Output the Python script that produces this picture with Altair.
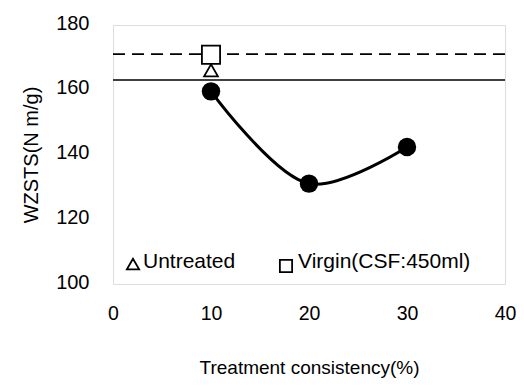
import altair as alt
import pandas as pd

# data
consistency = [10, 20, 30]
wzsts = [159.5, 131.0, 142.3]
untreated_x = [10]
untreated_y = [166.0]
virgin_x = [10]
virgin_y = [170.8]
virgin_level = [171.0]
untreated_level = [163.0]
x_ticks = [0, 10, 20, 30, 40]
y_ticks = [100, 120, 140, 160, 180]

FONT = "Liberation Sans"

main = pd.DataFrame({"x": consistency, "y": wzsts})
unt = pd.DataFrame({"x": untreated_x, "y": untreated_y})
vir = pd.DataFrame({"x": virgin_x, "y": virgin_y})
lv = pd.DataFrame({"y": virgin_level})
lu = pd.DataFrame({"y": untreated_level})

xs = alt.Scale(domain=[0, 40], nice=False, zero=False)
ys = alt.Scale(domain=[100, 180], nice=False, zero=False)

xax = alt.Axis(values=x_ticks, title="Treatment consistency(%)", grid=False, ticks=False,
               domain=False, labelFont=FONT, labelFontSize=19.5, labelColor="black",
               labelFlush=False, labelPadding=20, titleFont=FONT, titleFontSize=19,
               titleFontWeight="normal", titleColor="black", titlePadding=36)
yax = alt.Axis(values=y_ticks, title="WZSTS(N m/g)", grid=False, ticks=False,
               domain=False, labelFont=FONT, labelFontSize=20, labelColor="black",
               labelFlush=False, labelPadding=24, labelOffset=-2, titleFont=FONT,
               titleFontSize=20, titleFontWeight="normal", titleColor="black", titlePadding=14)

base_x = alt.X("x:Q", scale=xs, axis=xax)
base_y = alt.Y("y:Q", scale=ys, axis=yax)

curve = alt.Chart(main).mark_line(color="black", strokeWidth=3, interpolate="catmull-rom").encode(
    x=base_x, y=base_y)
dots = alt.Chart(main).mark_point(shape="circle", filled=True, color="black", size=340, opacity=1).encode(
    x="x:Q", y="y:Q")
tri = alt.Chart(unt).mark_point(shape="triangle-up", filled=True, fill="white", stroke="black",
                                strokeWidth=1.8, size=190, opacity=1).encode(x="x:Q", y="y:Q")
sq = alt.Chart(vir).mark_point(shape="square", filled=True, fill="white", stroke="black",
                               strokeWidth=1.8, size=330, opacity=1).encode(x="x:Q", y="y:Q")
dash = alt.Chart(lv).mark_rule(color="black", strokeWidth=1.6, strokeDash=[12, 7]).encode(y="y:Q")
solid = alt.Chart(lu).mark_rule(color="black", strokeWidth=1.4).encode(y="y:Q")

leg_tri = alt.Chart(pd.DataFrame({"a": [0]})).mark_point(
    shape="triangle-up", filled=False, stroke="black", strokeWidth=1.8, size=150, opacity=1
).encode(x=alt.value(20), y=alt.value(239))
leg_t1 = alt.Chart(pd.DataFrame({"a": [0]})).mark_text(
    text="Untreated", font=FONT, fontSize=21, align="left", baseline="alphabetic", color="black"
).encode(x=alt.value(30), y=alt.value(243))
leg_sq = alt.Chart(pd.DataFrame({"a": [0]})).mark_point(
    shape="square", filled=False, stroke="black", strokeWidth=1.8, size=150, opacity=1
).encode(x=alt.value(173), y=alt.value(241))
leg_t2 = alt.Chart(pd.DataFrame({"a": [0]})).mark_text(
    text="Virgin(CSF:450ml)", font=FONT, fontSize=21, align="left", baseline="alphabetic", color="black"
).encode(x=alt.value(185), y=alt.value(243))

chart = alt.layer(solid, dash, curve, dots, tri, sq, leg_tri, leg_t1, leg_sq, leg_t2).properties(
    width=392, height=259,
    autosize=alt.AutoSizeParams(type="none"),
    padding={"left": 105, "top": 17, "right": 11, "bottom": 95},
).configure_view(stroke="black", strokeWidth=1.8).configure(background="white")

chart.save("out.html", embed_options={"renderer": "svg", "actions": False})
